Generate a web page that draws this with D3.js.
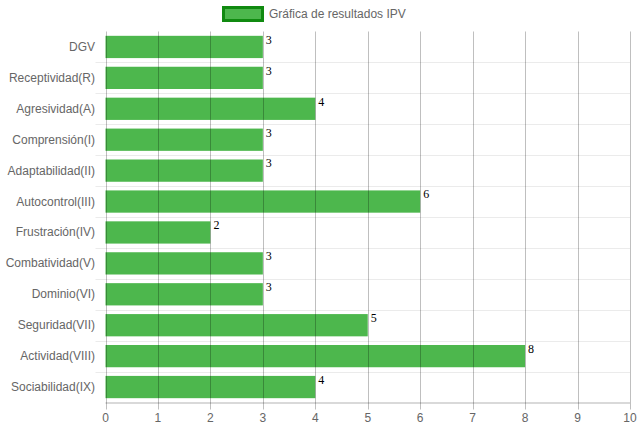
<!DOCTYPE html>
<html>
<head>
<meta charset="utf-8">
<script src="https://cdn.jsdelivr.net/npm/d3@7"></script>
<style>
  body { margin: 0; background: #fff; }
  svg { display: block; font-family: "Liberation Sans", Arial, Helvetica, sans-serif; }
</style>
</head>
<body>
<svg id="chart" width="639" height="431"></svg>
<script>
// IPV result factors and their scores
const categories = [
  "DGV", "Receptividad(R)", "Agresividad(A)", "Comprensión(I)",
  "Adaptabilidad(II)", "Autocontrol(III)", "Frustración(IV)",
  "Combatividad(V)", "Dominio(VI)", "Seguridad(VII)",
  "Actividad(VIII)", "Sociabilidad(IX)"
];
const values = [3, 3, 4, 3, 3, 6, 2, 3, 3, 5, 8, 4];
const xTicks = [0, 1, 2, 3, 4, 5, 6, 7, 8, 9, 10];
const seriesLabel = "Gráfica de resultados IPV";

const svg = d3.select("#chart");
const m = { left: 105.5, right: 630, top: 31.5, bottom: 402.5 };

const x = d3.scaleLinear().domain([0, 10]).range([m.left, m.right]);
const y = d3.scaleBand().domain(categories).range([m.top, m.bottom]).padding(0);
const barH = y.bandwidth() * 0.72;

// horizontal grid lines at category boundaries
const bounds = categories.map(c => y(c)).slice(1);
svg.append("g").selectAll("line").data(bounds).join("line")
  .attr("x1", m.left - 10).attr("x2", m.right)
  .attr("y1", d => Math.round(d) + 0.5).attr("y2", d => Math.round(d) + 0.5)
  .attr("stroke", "#ebebeb").attr("stroke-width", 1);

// bars
svg.append("g").selectAll("rect").data(categories).join("rect")
  .attr("x", x(0))
  .attr("y", (c) => y(c) + (y.bandwidth() - barH) / 2)
  .attr("width", (c, i) => x(values[i]) - x(0))
  .attr("height", barH)
  .attr("fill", "rgba(46,170,46,0.85)");

// vertical grid lines, drawn over the bars, with tick marks below the axis
svg.append("g").selectAll("line").data(xTicks).join("line")
  .attr("x1", d => Math.round(x(d)) + 0.5).attr("x2", d => Math.round(x(d)) + 0.5)
  .attr("y1", m.top).attr("y2", m.bottom + 7)
  .attr("stroke", "rgba(0,0,0,0.25)").attr("stroke-width", 1);

// x axis line
svg.append("line")
  .attr("x1", m.left).attr("x2", m.right)
  .attr("y1", m.bottom + 0.5).attr("y2", m.bottom + 0.5)
  .attr("stroke", "rgba(0,0,0,0.3)");

// x tick labels
svg.append("g").selectAll("text").data(xTicks).join("text")
  .attr("x", d => x(d)).attr("y", 422)
  .attr("text-anchor", "middle")
  .attr("font-size", 12).attr("fill", "#666")
  .text(d => d);

// category labels
svg.append("g").selectAll("text").data(categories).join("text")
  .attr("x", 95).attr("y", c => y(c) + y.bandwidth() / 2 + 4)
  .attr("text-anchor", "end")
  .attr("font-size", 12).attr("fill", "#666")
  .text(c => c);

// value labels at bar ends
svg.append("g").selectAll("text").data(categories).join("text")
  .attr("x", (c, i) => x(values[i]) + 3)
  .attr("y", c => y(c) + (y.bandwidth() - barH) / 2 + 8)
  .style("font-family", "'Liberation Serif', 'Times New Roman', serif")
  .attr("font-size", 12).attr("fill", "#000")
  .text((c, i) => values[i]);

// legend
const lg = svg.append("g");
lg.append("rect")
  .attr("x", 223.5).attr("y", 7.5).attr("width", 39).attr("height", 13)
  .attr("fill", "rgba(46,170,46,0.85)")
  .attr("stroke", "#108a10").attr("stroke-width", 3);
lg.append("text")
  .attr("x", 269).attr("y", 18)
  .attr("font-size", 12).attr("fill", "#666")
  .text(seriesLabel);
</script>
</body>
</html>
